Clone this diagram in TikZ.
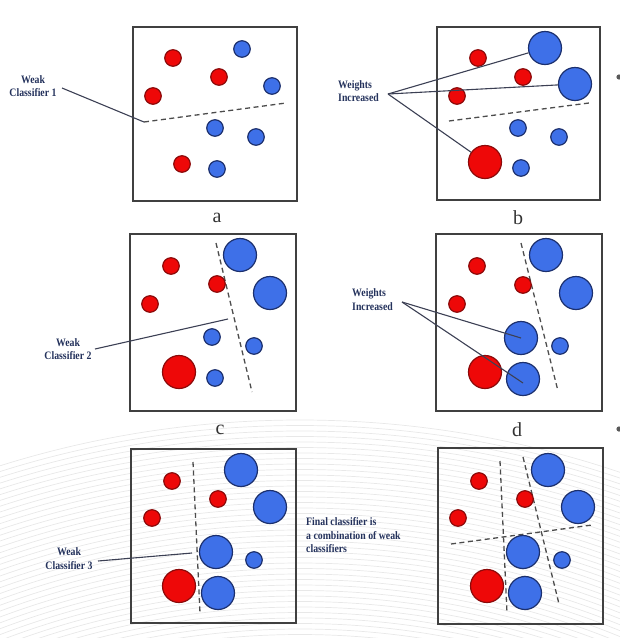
\documentclass[tikz,border=0pt]{standalone}
\usepackage{fontspec}
\usepackage{graphicx}
\setmainfont{Liberation Serif}
\definecolor{redf}{RGB}{238,8,8}
\definecolor{redd}{RGB}{140,10,10}
\definecolor{bluef}{RGB}{62,112,232}
\definecolor{blued}{RGB}{28,48,110}
\definecolor{navyt}{RGB}{36,50,92}
\definecolor{connc}{RGB}{60,64,84}
\newcommand{\tallc}[1]{\scalebox{1}[1.16]{\begin{tabular}{@{}c@{}}#1\end{tabular}}}
\newcommand{\talll}[1]{\scalebox{1}[1.16]{\begin{tabular}{@{}l@{}}#1\end{tabular}}}
\begin{document}
\begin{tikzpicture}[x=1pt,y=-1pt,
  frame/.style={draw=black!75, line width=1.3pt},
  sred/.style={circle, draw=redd, fill=redf, line width=1.2pt, minimum size=16.5pt, inner sep=0pt},
  bred/.style={sred, minimum size=33pt},
  sblue/.style={circle, draw=blued, fill=bluef, line width=1.2pt, minimum size=16.5pt, inner sep=0pt},
  bblue/.style={sblue, minimum size=33pt},
  sepline/.style={draw=black!70, line width=1.3pt, dash pattern=on 5pt off 3.5pt},
  conn/.style={draw=connc, line width=1.1pt},
  lbl/.style={font=\fontsize{9.8}{11.6}\selectfont\bfseries, text=navyt, inner sep=0pt},
  captxt/.style={font=\fontsize{20}{20}\selectfont, text=black!80, inner sep=0pt},
  bgline/.style={draw=black!9, line width=0.7pt}]
\useasboundingbox (0,0) rectangle (620,638);
% faint background arcs
\begin{scope}
\clip (0,415) rectangle (620,638);
\foreach \r in {780,785.5,...,1000} \draw[bgline] (300,1420) circle[radius=\r pt];
\end{scope}
% frames
\draw[frame] (133,27) rectangle (297,201);
\draw[frame] (437,27) rectangle (600,200);
\draw[frame] (130,234) rectangle (296,411);
\draw[frame] (436,234) rectangle (602,411);
\draw[frame] (131,449) rectangle (296,623);
\draw[frame] (438,448) rectangle (603,624);
% captions
\node[captxt] (ca) at (217,218) {a};
\node[captxt] (cb) at (518,218) {b};
\node[captxt] (cc) at (220,430) {c};
\node[captxt] (cd) at (517,430) {d};
\node[captxt] (ce) at (521,646) {e};
% bullets (cut by the edge)
\fill[black!65] (619,77) circle[radius=2.6pt];
\fill[black!65] (619,429) circle[radius=2.6pt];
% ---------- panel a
\coordinate (sa1) at (144,122); \coordinate (sa2) at (286,103);
\draw[sepline] (sa1) -- (sa2);
\node[sred] (a1) at (173,58) {};
\node[sblue] (a2) at (242,49) {};
\node[sred] (a3) at (219,77) {};
\node[sblue] (a4) at (272,86) {};
\node[sred] (a5) at (153,96) {};
\node[sblue] (a6) at (215,128) {};
\node[sblue] (a7) at (256,137) {};
\node[sred] (a8) at (182,164) {};
\node[sblue] (a9) at (217,169) {};
\node[lbl] (wa) at (33,87.5) {\tallc{Weak\\Classifier 1}};
\coordinate (wap) at (62,88);
\draw[conn] (wap) -- (sa1);
% ---------- panel b
\coordinate (sb1) at (449,121); \coordinate (sb2) at (589,103);
\draw[sepline] (sb1) -- (sb2);
\node[sred] (b1) at (478,58) {};
\node[bblue] (b2) at (545,48) {};
\node[sred] (b3) at (523,77) {};
\node[bblue] (b4) at (575,84) {};
\node[sred] (b5) at (457,96) {};
\node[sblue] (b6) at (518,128) {};
\node[sblue] (b7) at (559,137) {};
\node[bred] (b8) at (485,162) {};
\node[sblue] (b9) at (521,168) {};
\node[lbl, anchor=west] (wb) at (338,92.5) {\talll{Weights\\Increased}};
\coordinate (wbp) at (388,94);
\draw[conn] (wbp) -- (b2);
\draw[conn] (wbp) -- (b4);
\draw[conn] (wbp) -- (b8);
% ---------- panel c
\coordinate (sc1) at (216,243); \coordinate (sc2) at (252,392);
\draw[sepline] (sc1) -- (sc2);
\node[sred] (c1) at (171,266) {};
\node[bblue] (c2) at (240,255) {};
\node[sred] (c3) at (217,284) {};
\node[bblue] (c4) at (270,293) {};
\node[sred] (c5) at (150,304) {};
\node[sblue] (c6) at (212,337) {};
\node[sblue] (c7) at (254,346) {};
\node[bred] (c8) at (179,372) {};
\node[sblue] (c9) at (215,378) {};
\node[lbl] (wc) at (68,350.5) {\tallc{Weak\\Classifier 2}};
\coordinate (wcp) at (95,349); \coordinate (wcq) at (228,319);
\draw[conn] (wcp) -- (wcq);
% ---------- panel d
\coordinate (sd1) at (521,243); \coordinate (sd2) at (558,391);
\draw[sepline] (sd1) -- (sd2);
\node[sred] (d1) at (477,266) {};
\node[bblue] (d2) at (546,255) {};
\node[sred] (d3) at (523,285) {};
\node[bblue] (d4) at (576,293) {};
\node[sred] (d5) at (457,304) {};
\node[bblue] (d6) at (521,338) {};
\node[sblue] (d7) at (560,346) {};
\node[bred] (d8) at (485,372) {};
\node[bblue] (d9) at (523,379) {};
\node[lbl, anchor=west] (wd) at (352,301) {\talll{Weights\\Increased}};
\coordinate (wdp) at (402,302); \coordinate (wdq) at (523,383);
\draw[conn] (wdp) -- (d6.center);
\draw[conn] (wdp) -- (wdq);
% ---------- panel e (left)
\coordinate (se1) at (193,462); \coordinate (se2) at (200,613);
\draw[sepline] (se1) -- (se2);
\node[sred] (e1) at (172,481) {};
\node[bblue] (e2) at (241,470) {};
\node[sred] (e3) at (218,499) {};
\node[bblue] (e4) at (270,507) {};
\node[sred] (e5) at (152,518) {};
\node[bblue] (e6) at (216,552) {};
\node[sblue] (e7) at (254,560) {};
\node[bred] (e8) at (179,586) {};
\node[bblue] (e9) at (218,593) {};
\node[lbl] (we) at (69,560) {\tallc{Weak\\Classifier 3}};
\coordinate (wep) at (98,561); \coordinate (weq) at (192,553);
\draw[conn] (wep) -- (weq);
% ---------- final text
\node[lbl, anchor=west] (fin) at (306,536.5) {\talll{Final classifier is\\a combination of weak\\classifiers}};
% ---------- panel e (right)
\coordinate (sf1) at (500,461); \coordinate (sf2) at (507,613);
\coordinate (sf3) at (523,457); \coordinate (sf4) at (559,604);
\coordinate (sf5) at (451,544); \coordinate (sf6) at (592,525);
\draw[sepline] (sf1) -- (sf2);
\draw[sepline] (sf3) -- (sf4);
\draw[sepline] (sf5) -- (sf6);
\node[sred] (f1) at (479,481) {};
\node[bblue] (f2) at (548,470) {};
\node[sred] (f3) at (525,499) {};
\node[bblue] (f4) at (578,507) {};
\node[sred] (f5) at (458,518) {};
\node[bblue] (f6) at (523,552) {};
\node[sblue] (f7) at (562,560) {};
\node[bred] (f8) at (487,586) {};
\node[bblue] (f9) at (525,593) {};
\end{tikzpicture}
\end{document}
